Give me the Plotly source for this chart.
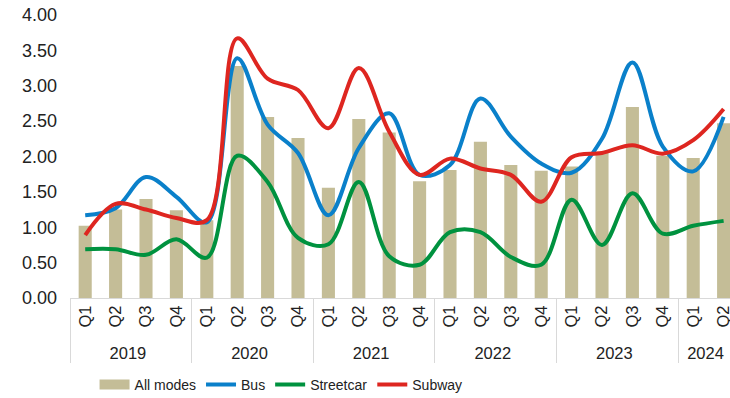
import plotly.graph_objects as go

years = ["2019", "2019", "2019", "2019",
         "2020", "2020", "2020", "2020",
         "2021", "2021", "2021", "2021",
         "2022", "2022", "2022", "2022",
         "2023", "2023", "2023", "2023",
         "2024", "2024"]
quarters = ["Q1", "Q2", "Q3", "Q4",
            "Q1", "Q2", "Q3", "Q4",
            "Q1", "Q2", "Q3", "Q4",
            "Q1", "Q2", "Q3", "Q4",
            "Q1", "Q2", "Q3", "Q4",
            "Q1", "Q2"]

all_modes = [1.02, 1.25, 1.40, 1.24,
             1.10, 3.28, 2.56, 2.26,
             1.56, 2.53, 2.34, 1.65,
             1.81, 2.21, 1.88, 1.80,
             1.86, 2.07, 2.70, 2.01,
             1.98, 2.47]
bus = [1.17, 1.27, 1.71, 1.43,
       1.07, 3.39, 2.45, 2.05,
       1.17, 2.12, 2.61, 1.74,
       1.88, 2.82, 2.28, 1.90,
       1.77, 2.25, 3.33, 2.14,
       1.79, 2.56]
streetcar = [0.69, 0.69, 0.61, 0.83,
             0.57, 2.01, 1.64, 0.85,
             0.76, 1.64, 0.59, 0.47,
             0.93, 0.93, 0.58, 0.47,
             1.39, 0.75, 1.48, 0.91,
             1.02, 1.09]
subway = [0.89, 1.33, 1.25, 1.13,
          1.10, 3.67, 3.10, 2.94,
          2.40, 3.25, 2.35, 1.74,
          1.97, 1.83, 1.74, 1.36,
          1.99, 2.05, 2.16, 2.04,
          2.23, 2.67]

y_ticks = [0, 0.5, 1.0, 1.5, 2.0, 2.5, 3.0, 3.5, 4.0]

x = [years, quarters]
FONT = "Liberation Sans, Arial, sans-serif"
TAN = "#C4BD97"

fig = go.Figure()
fig.add_trace(go.Bar(x=x, y=all_modes, name="All modes", showlegend=False,
                     marker=dict(color=TAN, line=dict(width=0)),
                     width=0.43))
# legend-only entry so the swatch is a wide rectangle as in the reference
fig.add_trace(go.Scatter(x=[None], y=[None], name="All modes", mode="lines",
                         line=dict(color=TAN, width=10)))
fig.add_trace(go.Scatter(x=x, y=bus, name="Bus", mode="lines",
                         line=dict(color="#0A80CA", width=4, shape="spline", smoothing=1)))
fig.add_trace(go.Scatter(x=x, y=streetcar, name="Streetcar", mode="lines",
                         line=dict(color="#00923F", width=4, shape="spline", smoothing=1)))
fig.add_trace(go.Scatter(x=x, y=subway, name="Subway", mode="lines",
                         line=dict(color="#DE2620", width=4, shape="spline", smoothing=1)))

fig.update_layout(
    width=730, height=398,
    margin=dict(l=70, r=0, t=15, b=100),
    paper_bgcolor="white", plot_bgcolor="white",
    font=dict(family=FONT, color="#222222"),
    showlegend=True,
    legend=dict(orientation="h", xref="container", yref="container",
                x=0.385, y=0.033, xanchor="center", yanchor="middle",
                font=dict(size=14, color="#222222"),
                itemwidth=30, tracegroupgap=0),
    xaxis=dict(type="multicategory", range=[-0.5, 21.21],
               showline=True, linecolor="#D9D9D9", linewidth=1,
               ticks="", tickangle=-90, tickfont=dict(size=16.5, color="#222222"),
               showdividers=True, dividercolor="#D9D9D9", dividerwidth=1,
               showgrid=False, zeroline=False),
    yaxis=dict(range=[0, 4], tickvals=y_ticks, tickformat=".2f",
               showgrid=False, zeroline=False, showline=False,
               ticklabelstandoff=12,
               tickfont=dict(size=18, color="#222222"), ticks=""),
)

fig.write_html("out.html")
